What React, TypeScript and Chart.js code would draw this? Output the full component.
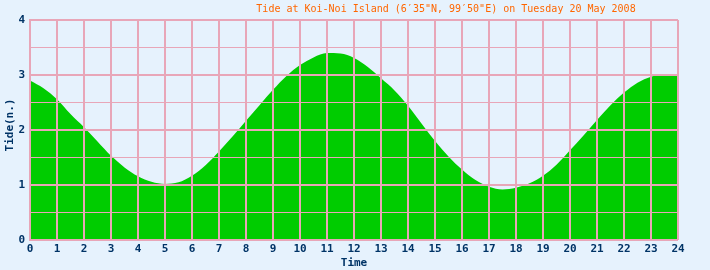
import React, { useEffect, useRef } from "react";
import { Chart, registerables } from "chart.js";

Chart.register(...registerables);

const TITLE = "Tide at Koi-Noi Island (6\u203235\"N, 99\u203250\"E) on Tuesday 20 May 2008";
const X_TITLE = "Time";
const Y_TITLE = "Tide(n.)";

const hours = [
  0, 0.5, 1, 1.5, 2, 2.5, 3, 3.5, 4, 4.5, 5, 5.5, 6, 6.5, 7, 7.5, 8, 8.5, 9, 9.5, 10, 10.5, 11, 11.5,
  12, 12.5, 13, 13.5, 14, 14.5, 15, 15.5, 16, 16.5, 17, 17.5, 18, 18.5, 19, 19.5, 20, 20.5, 21, 21.5,
  22, 22.5, 23, 23.5, 24,
];
const tide = [
  2.9, 2.76, 2.56, 2.29, 2.05, 1.79, 1.53, 1.32, 1.16, 1.06, 1.02, 1.05, 1.17, 1.36, 1.61, 1.88, 2.17,
  2.45, 2.73, 2.98, 3.18, 3.32, 3.4, 3.39, 3.31, 3.15, 2.94, 2.72, 2.44, 2.12, 1.8, 1.52, 1.28, 1.09,
  0.97, 0.92, 0.95, 1.03, 1.17, 1.37, 1.63, 1.9, 2.18, 2.45, 2.68, 2.86, 2.97, 3.01, 3.02,
];

const BG = "#e6f2fd";
const GRID = "#e8a6b8";
const TEXT = "#003366";
const FONT = "'DejaVu Sans Mono', monospace";

const textPlugin = {
  id: "customText",
  afterDraw(chart: any) {
    const ctx = chart.ctx;
    const area = chart.chartArea;
    ctx.save();
    ctx.fillStyle = "#ff6600";
    ctx.font = `10px ${FONT}`;
    ctx.textAlign = "center";
    ctx.textBaseline = "middle";
    ctx.fillText(TITLE, 446, 9);
    ctx.fillStyle = TEXT;
    ctx.font = `bold 11px ${FONT}`;
    ctx.fillText(X_TITLE, (area.left + area.right) / 2, 263);
    ctx.translate(10, 125);
    ctx.rotate(-Math.PI / 2);
    ctx.fillText(Y_TITLE, 0, 0);
    ctx.restore();
  },
};

const bgPlugin = {
  id: "bg",
  beforeDraw(chart: any) {
    const ctx = chart.ctx;
    ctx.save();
    ctx.fillStyle = BG;
    ctx.fillRect(0, 0, chart.width, chart.height);
    ctx.restore();
  },
};

export default function App() {
  const ref = useRef<HTMLCanvasElement>(null);
  useEffect(() => {
    document.body.style.margin = "0";
    document.body.style.background = BG;
    const canvas = ref.current!;
    const chart = new Chart(canvas, {
      type: "line",
      data: {
        datasets: [
          {
            data: hours.map((h, i) => ({ x: h, y: tide[i] })),
            backgroundColor: "#00cc00",
            borderColor: "#00cc00",
            borderWidth: 0,
            pointRadius: 0,
            fill: "origin",
            cubicInterpolationMode: "monotone",
          },
        ],
      },
      options: {
        animation: false,
        responsive: false,
        devicePixelRatio: 1,
        layout: { padding: { top: 20, right: 32, left: 0, bottom: 0 } },
        plugins: { legend: { display: false }, tooltip: { enabled: false }, title: { display: false } },
        scales: {
          x: {
            type: "linear",
            min: 0,
            max: 24,
            afterFit: (s: any) => {
              s.height = 30;
            },
            grid: { color: GRID, lineWidth: 2, drawTicks: false, z: 1 },
            border: { display: false },
            ticks: {
              stepSize: 1,
              autoSkip: false,
              maxRotation: 0,
              padding: 3,
              color: TEXT,
              font: { family: FONT, size: 11, weight: "bold" },
            },
          },
          y: {
            min: 0,
            max: 4,
            afterFit: (s: any) => {
              s.width = 30;
            },
            grid: {
              color: GRID,
              lineWidth: (c: any) => (c.tick && c.tick.value % 1 === 0 ? 2 : 1),
              drawTicks: false,
              z: 1,
            },
            border: { display: true, color: GRID, width: 2, z: 1 },
            ticks: {
              stepSize: 0.5,
              autoSkip: false,
              padding: 5,
              color: TEXT,
              font: { family: FONT, size: 11, weight: "bold" },
              callback: (v: any) => (Number(v) % 1 === 0 ? String(v) : ""),
            },
          },
        },
      },
      plugins: [bgPlugin, textPlugin],
    } as any);
    return () => chart.destroy();
  }, []);
  return <canvas ref={ref} width={710} height={270} style={{ display: "block", width: 710, height: 270 }} />;
}
